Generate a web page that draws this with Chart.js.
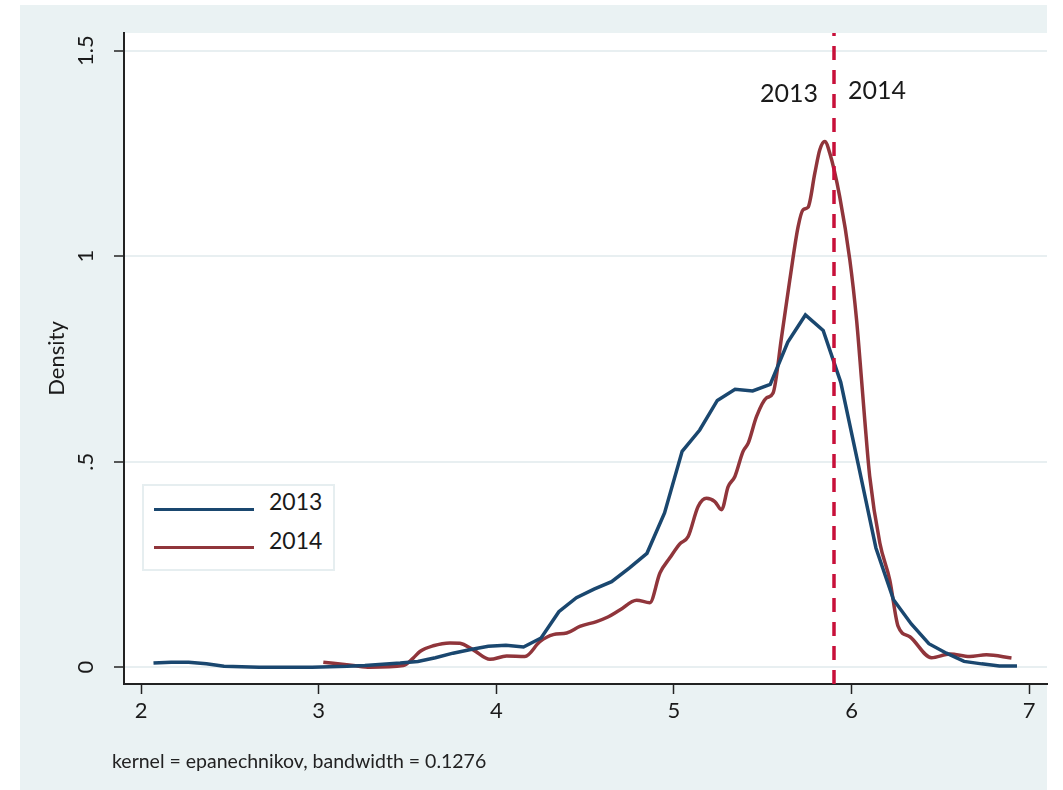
<!DOCTYPE html>
<html><head><meta charset="utf-8">
<script src="https://cdn.jsdelivr.net/npm/chart.js@4"></script>
<style>
html,body{margin:0;padding:0;background:#fff;}
#wrap{position:relative;width:1063px;height:790px;overflow:hidden;}
canvas{position:absolute;left:0;top:0;}
#legend{position:absolute;left:142px;top:484px;width:193px;height:87px;border:2px solid #e6eef0;box-sizing:border-box;background:#fff;font-family:Lato,sans-serif;font-size:23px;color:#1a1a1a;}
.sw{position:absolute;left:10px;width:100px;height:3px;}
.lab{position:absolute;left:125px;line-height:1;}
#note{position:absolute;left:112px;top:751px;font-family:Lato,sans-serif;font-size:19.5px;color:#222;white-space:nowrap;line-height:1;}
</style></head>
<body><div id="wrap"><canvas id="c" width="1063" height="790"></canvas><div id="legend"></div><div id="note">kernel = epanechnikov, bandwidth = 0.1276</div></div>
<script>
// ---- data ----
const x2013 = [2.070,2.169,2.268,2.368,2.467,2.566,2.665,2.764,2.864,2.963,
               3.062,3.161,3.260,3.360,3.459,3.558,3.657,3.756,3.856,3.955,
               4.054,4.153,4.252,4.352,4.451,4.550,4.649,4.748,4.848,4.947,
               5.046,5.145,5.244,5.344,5.443,5.542,5.641,5.740,5.840,5.939,
               6.038,6.137,6.236,6.336,6.435,6.534,6.633,6.732,6.832,6.931];
const y2013 = [0.010,0.012,0.012,0.008,0.002,0.001,0.000,0.000,0.000,0.000,
               0.001,0.002,0.004,0.007,0.010,0.014,0.023,0.034,0.043,0.051,
               0.053,0.049,0.071,0.135,0.169,0.190,0.208,0.241,0.277,0.375,
               0.525,0.577,0.649,0.676,0.672,0.688,0.791,0.857,0.819,0.693,
               0.492,0.290,0.164,0.105,0.057,0.034,0.014,0.008,0.003,0.003];
const x2014 = [3.026,3.195,3.289,3.476,3.532,3.570,3.645,3.739,3.795,3.870,
               3.964,4.058,4.161,4.245,4.320,4.396,4.470,4.564,4.628,4.695,
               4.790,4.864,4.921,4.977,5.033,5.080,5.136,5.183,5.230,5.268,
               5.305,5.343,5.389,5.418,5.465,5.521,5.558,5.606,5.652,5.699,
               5.727,5.755,5.793,5.821,5.849,5.877,5.933,5.990,6.028,6.056,
               6.074,6.102,6.159,6.215,6.262,6.328,6.450,6.553,6.665,6.759,6.900];
const y2014 = [0.012,0.004,0.000,0.004,0.022,0.038,0.052,0.059,0.058,0.042,
               0.019,0.027,0.026,0.062,0.079,0.083,0.099,0.111,0.122,0.139,
               0.163,0.157,0.229,0.266,0.300,0.318,0.391,0.411,0.403,0.383,
               0.439,0.464,0.525,0.545,0.610,0.655,0.667,0.804,0.942,1.072,
               1.113,1.119,1.202,1.259,1.279,1.251,1.145,0.991,0.845,0.699,
               0.602,0.464,0.302,0.212,0.099,0.074,0.023,0.032,0.026,0.030,0.022];
const seriesLabels = ['2013','2014'];
const xTicks = [2,3,4,5,6,7];
const xTickLabels = ['2','3','4','5','6','7'];
const yTicks = [0,0.5,1,1.5];
const yTickLabels = ['0','.5','1','1.5'];
const refLineX = 5.9;
const refLabels = [{text:'2013', y:1.376, side:'left'},{text:'2014', y:1.382, side:'right'}];
const footnote = 'kernel = epanechnikov, bandwidth = 0.1276';

const colors = ['#1a476f','#90353b'];
const FONT = 'Lato';

const bgPlugin = {
  id:'bg',
  beforeDraw(chart){
    const {ctx, chartArea:a} = chart;
    ctx.save();
    ctx.fillStyle = '#eaf2f3';
    ctx.fillRect(20,5,1027,785);
    ctx.fillStyle = '#ffffff';
    ctx.fillRect(a.left, a.top, a.right-a.left, a.bottom-a.top);
    ctx.restore();
  }
};
const refPlugin = {
  id:'ref',
  afterDatasetsDraw(chart){
    const {ctx, chartArea:a, scales:{x,y}} = chart;
    const px = Math.round(x.getPixelForValue(refLineX));
    ctx.save();
    ctx.strokeStyle = '#c8103a';
    ctx.lineWidth = 3.5;
    ctx.setLineDash([14,10]);
    ctx.beginPath();
    ctx.moveTo(px, a.bottom);
    ctx.lineTo(px, a.top);
    ctx.stroke();
    ctx.setLineDash([]);
    ctx.fillStyle = '#1a1a1a';
    ctx.font = '25px ' + FONT;
    ctx.textBaseline = 'alphabetic';
    refLabels.forEach(l=>{
      const py = y.getPixelForValue(l.y);
      if(l.side==='left'){ ctx.textAlign='right'; ctx.fillText(l.text, px-16, py); }
      else { ctx.textAlign='left'; ctx.fillText(l.text, px+14, py); }
    });
    ctx.restore();
  }
};

const ctx = document.getElementById('c').getContext('2d');
const chart = new Chart(ctx, {
  type:'line',
  data:{datasets:[
    {label:seriesLabels[0], data:x2013.map((v,i)=>({x:v,y:y2013[i]})), borderColor:colors[0], borderWidth:3.5, pointRadius:0, tension:0, fill:false},
    {label:seriesLabels[1], data:x2014.map((v,i)=>({x:v,y:y2014[i]})), borderColor:colors[1], borderWidth:3.5, pointRadius:0, cubicInterpolationMode:'monotone', fill:false}
  ]},
  options:{
    responsive:false, animation:false, devicePixelRatio:1,
    layout:{padding:{left:0,right:16,top:33,bottom:0}},
    plugins:{legend:{display:false}, tooltip:{enabled:false}},
    scales:{
      x:{type:'linear', min:1.904, max:7.10,
        afterBuildTicks:s=>{s.ticks = xTicks.map(v=>({value:v}));},
        afterFit:s=>{s.height=106;},
        grid:{drawOnChartArea:false, tickLength:10, tickWidth:1.5, tickColor:'#222'},
        border:{display:true, color:'#222', width:2},
        ticks:{font:{family:FONT,size:22}, color:'#1a1a1a', padding:4, autoSkip:false, maxRotation:0,
          callback:(v,i)=>xTickLabels[i]}
      },
      y:{type:'linear', min:-0.041, max:1.543,
        afterBuildTicks:s=>{s.ticks = yTicks.map(v=>({value:v}));},
        afterFit:s=>{s.width=124;},
        grid:{color:'#e8eff1', lineWidth:2, tickLength:10, tickWidth:1.5, tickColor:'#222'},
        border:{display:true, color:'#222', width:2},
        ticks:{font:{family:FONT,size:22}, color:'#1a1a1a', padding:13, minRotation:90, maxRotation:90, crossAlign:'center', autoSkip:false,
          callback:(v,i)=>yTickLabels[i]},
        title:{display:true, text:'Density', font:{family:FONT,size:22}, color:'#1a1a1a', padding:{top:44,bottom:0}}
      }
    }
  },
  plugins:[bgPlugin, refPlugin]
});

// HTML legend built from the chart datasets
const leg = document.getElementById('legend');
chart.data.datasets.forEach((d,i)=>{
  const sw = document.createElement('div');
  sw.className='sw'; sw.style.background=d.borderColor; sw.style.top=(21.5+38*i)+'px';
  const lb = document.createElement('div');
  lb.className='lab'; lb.textContent=d.label; lb.style.top=(4+38.5*i)+'px';
  leg.appendChild(sw); leg.appendChild(lb);
});
document.getElementById('note').textContent = footnote;
</script></body></html>
